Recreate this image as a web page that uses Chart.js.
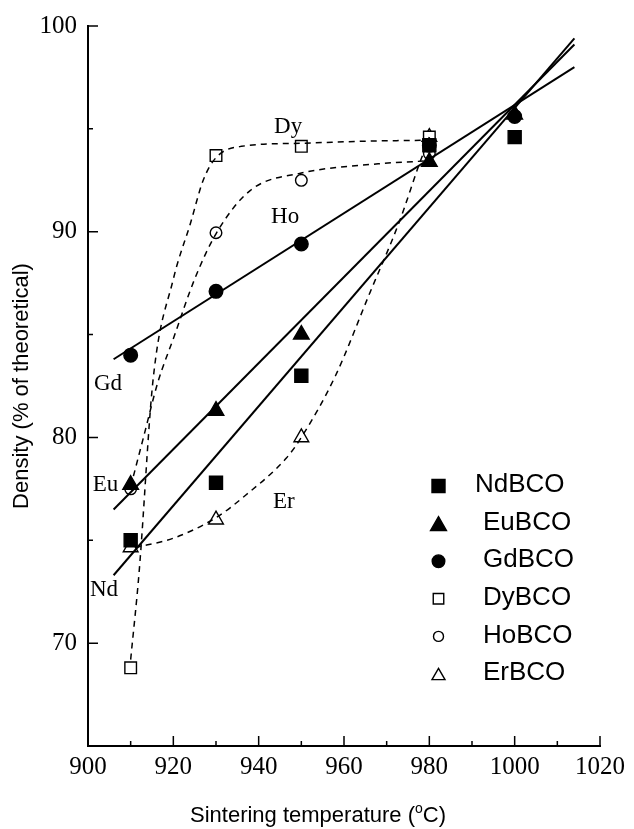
<!DOCTYPE html>
<html>
<head>
<meta charset="utf-8">
<script src="https://cdn.jsdelivr.net/npm/chart.js@4.4.0/dist/chart.umd.min.js"></script>
<style>
  html, body { margin: 0; padding: 0; background: #fff; }
  canvas { display: block; }
</style>
</head>
<body>
<canvas id="densityChart" width="634" height="829"></canvas>
<script>
// measured sintering temperatures (°C)
const temps = [910, 930, 950, 980, 1000];
const tempsShort = [910, 930, 950, 980];

// density, % of theoretical
const ndDensity = [75.0, 77.8, 83.0, 94.2, 94.6];
const euDensity = [77.7, 81.3, 85.0, 93.4, 95.7];
const gdDensity = [84.0, 87.1, 89.4, 94.2, 95.6];
const dyDensity = [68.8, 93.7, 94.15, 94.6];
const hoDensity = [77.5, 89.95, 92.5, 93.8];
const erDensity = [74.65, 76.0, 80.0, 94.6];

// straight fit lines (end points)
const fitTemps = [906, 1014];
const ndFit = [73.3, 99.4];
const euFit = [76.5, 99.1];
const gdFit = [83.8, 98.0];

// dashed guide curves
const dyCurveT = [910, 912, 915.2, 920, 924, 927, 930, 936, 950, 965, 980];
const dyCurve = [69.2, 73.5, 82.7, 87.7, 90.4, 92.5, 93.6, 94.15, 94.3, 94.4, 94.45];
const hoCurveT = [910, 913, 916.4, 920, 925, 930, 938, 950, 968, 980];
const hoCurve = [77.6, 80.0, 82.7, 84.8, 87.7, 89.9, 92.0, 92.85, 93.3, 93.45];
const erCurveT = [911, 920, 930, 937, 946.5, 950, 958, 966, 973, 977.5, 980];
const erCurve = [74.65, 75.1, 76.1, 77.2, 79.0, 80.0, 83.0, 87.0, 90.5, 93.2, 94.6];

// axis ticks
const xMajorTicks = [900, 920, 940, 960, 980, 1000, 1020];
const yMajorTicks = [70, 80, 90, 100];

const legendNames = ['NdBCO', 'EuBCO', 'GdBCO', 'DyBCO', 'HoBCO', 'ErBCO'];
const curveLabels = ['Gd', 'Eu', 'Nd', 'Dy', 'Ho', 'Er'];
const curveLabelPos = [[904.7, 82.3], [904.1, 77.4], [903.75, 72.27], [946.9, 94.78], [946.2, 90.43], [945.9, 76.57]];

const serif = '"Liberation Serif", "Times New Roman", serif';
const sans = '"Liberation Sans", Arial, sans-serif';

const pts = (xs, ys) => xs.map((x, i) => ({ x: x, y: ys[i] }));

// marker look per series; legendSize is the symbol size in the key
const markers = [
  { style: 'rect', radius: 9.2, fill: '#000', legendSize: 13 },
  { style: 'triangle', radius: 9, fill: '#000', legendSize: 9.2 },
  { style: 'circle', radius: 6.8, fill: '#000', legendSize: 6.3 },
  { style: 'rect', radius: 8.2, fill: '#fff', legendSize: 10.5 },
  { style: 'circle', radius: 5.8, fill: '#fff', legendSize: 5 },
  { style: 'triangle', radius: 8.5, fill: '#fff', legendSize: 7.5 }
];

function markerSet(label, data, m) {
  return {
    label: label,
    data: data,
    showLine: false,
    pointStyle: m.style,
    pointRadius: m.radius,
    pointBackgroundColor: m.fill,
    pointBorderColor: '#000',
    pointBorderWidth: 1.4,
    borderColor: '#000'
  };
}

function lineSet(data, dashed) {
  return {
    data: data,
    borderColor: '#000',
    borderWidth: dashed ? 1.5 : 2,
    borderDash: dashed ? [6, 5] : [],
    pointRadius: 0,
    cubicInterpolationMode: dashed ? 'monotone' : 'default',
    fill: false
  };
}

// inward tick marks, curve names, legend and x-axis title
const decorations = {
  id: 'decorations',
  afterDraw(chart) {
    const { ctx, chartArea, scales: { x, y } } = chart;
    ctx.save();
    ctx.strokeStyle = '#000';
    ctx.lineWidth = 1.5;
    ctx.beginPath();
    x.ticks.forEach(t => {
      if (t.value === 900) return;
      const px = x.getPixelForValue(t.value);
      const len = xMajorTicks.includes(t.value) ? 10 : 5;
      ctx.moveTo(px, chartArea.bottom);
      ctx.lineTo(px, chartArea.bottom - len);
    });
    y.ticks.forEach(t => {
      if (t.value === 65) return;
      const py = y.getPixelForValue(t.value);
      const len = yMajorTicks.includes(t.value) ? 10 : 5;
      ctx.moveTo(chartArea.left, py);
      ctx.lineTo(chartArea.left + len, py);
    });
    ctx.stroke();

    // names beside the curves
    ctx.fillStyle = '#000';
    ctx.font = '23px ' + serif;
    ctx.textAlign = 'center';
    ctx.textBaseline = 'alphabetic';
    curveLabels.forEach((name, i) => {
      const p = curveLabelPos[i];
      ctx.fillText(name, x.getPixelForValue(p[0]), y.getPixelForValue(p[1]));
    });

    // legend
    const lx = 438.5, ly = 486, step = 37.6;
    ctx.font = '26px ' + sans;
    ctx.textAlign = 'left';
    ctx.textBaseline = 'middle';
    legendNames.forEach((name, i) => {
      const cy = ly + i * step;
      const m = markers[i];
      const r = m.legendSize;
      ctx.fillStyle = m.fill;
      ctx.lineWidth = 1.4;
      ctx.beginPath();
      if (m.style === 'rect') {
        ctx.rect(lx - r / 2, cy - r / 2, r, r);
      } else if (m.style === 'circle') {
        ctx.arc(lx, cy, r, 0, Math.PI * 2);
      } else {
        ctx.moveTo(lx, cy - r * 0.75);
        ctx.lineTo(lx + r * 0.866, cy + r * 0.75);
        ctx.lineTo(lx - r * 0.866, cy + r * 0.75);
        ctx.closePath();
      }
      ctx.fill();
      ctx.stroke();
      ctx.fillStyle = '#000';
      ctx.fillText(name, i === 0 ? 475 : 483, cy - 1);
    });

    // x-axis title with superscript degree
    ctx.textBaseline = 'alphabetic';
    ctx.textAlign = 'left';
    const part1 = 'Sintering temperature (';
    const part2 = 'o';
    const part3 = 'C)';
    ctx.font = '22px ' + sans;
    const w1 = ctx.measureText(part1).width;
    const w3 = ctx.measureText(part3).width;
    ctx.font = '14px ' + sans;
    const w2 = ctx.measureText(part2).width;
    const total = w1 + w2 + w3;
    const tx = 318 - total / 2;
    const base = 822;
    ctx.font = '22px ' + sans;
    ctx.fillText(part1, tx, base);
    ctx.font = '14px ' + sans;
    ctx.fillText(part2, tx + w1, base - 9);
    ctx.font = '22px ' + sans;
    ctx.fillText(part3, tx + w1 + w2, base);
    ctx.restore();
  }
};

new Chart(document.getElementById('densityChart'), {
  type: 'line',
  data: {
    datasets: [
      lineSet(pts(fitTemps, ndFit), false),
      lineSet(pts(fitTemps, euFit), false),
      lineSet(pts(fitTemps, gdFit), false),
      lineSet(pts(dyCurveT, dyCurve), true),
      lineSet(pts(hoCurveT, hoCurve), true),
      lineSet(pts(erCurveT, erCurve), true),
      markerSet('NdBCO', pts(temps, ndDensity), markers[0]),
      markerSet('EuBCO', pts(temps, euDensity), markers[1]),
      markerSet('GdBCO', pts(temps, gdDensity), markers[2]),
      markerSet('DyBCO', pts(tempsShort, dyDensity), markers[3]),
      markerSet('HoBCO', pts(tempsShort, hoDensity), markers[4]),
      markerSet('ErBCO', pts(tempsShort, erDensity), markers[5])
    ]
  },
  options: {
    responsive: false,
    animation: false,
    events: [],
    layout: { padding: { top: 22, right: 34, left: 0, bottom: 0 } },
    plugins: { legend: { display: false }, tooltip: { enabled: false } },
    scales: {
      x: {
        type: 'linear',
        min: 900,
        max: 1020,
        afterFit: s => { s.height = 83; },
        grid: { display: false, drawTicks: false },
        border: { display: true, color: '#000', width: 2 },
        ticks: {
          stepSize: 10,
          autoSkip: false,
          maxRotation: 0,
          padding: 6,
          color: '#000',
          font: { family: serif, size: 25 },
          callback: v => xMajorTicks.includes(v) ? String(v) : ''
        }
      },
      y: {
        min: 65,
        max: 100,
        afterFit: s => { s.width = 88; },
        grid: { display: false, drawTicks: false },
        border: { display: true, color: '#000', width: 2 },
        title: {
          display: true,
          text: 'Density (% of theoretical)',
          color: '#000',
          font: { family: sans, size: 22 },
          padding: { top: 9, bottom: 0 }
        },
        ticks: {
          stepSize: 5,
          padding: 11,
          color: '#000',
          font: { family: serif, size: 25 },
          callback: v => yMajorTicks.includes(v) ? String(v) : ''
        }
      }
    }
  },
  plugins: [decorations]
});
</script>
</body>
</html>
